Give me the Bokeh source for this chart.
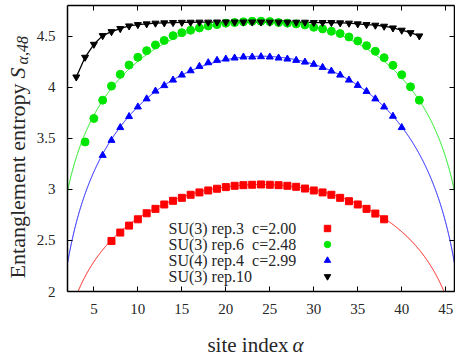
import numpy as np
from bokeh.plotting import figure
from bokeh.models import Range1d, LinearAxis, FixedTicker, Label, Legend, LegendItem
from bokeh.embed import file_html
from bokeh.resources import INLINE

# ---------------- data ----------------
L_SITES = 48

site_red = list(range(7, 39))
S_red = [2.495, 2.577, 2.645, 2.707, 2.766, 2.809, 2.852, 2.888, 2.917, 2.947,
         2.970, 2.989, 3.006, 3.022, 3.035, 3.041, 3.045, 3.048, 3.045, 3.041,
         3.035, 3.025, 3.008, 2.989, 2.970, 2.947, 2.917, 2.884, 2.852, 2.809,
         2.763, 2.707]

site_green = list(range(4, 43))
S_green = [3.464, 3.694, 3.873, 4.011, 4.126, 4.217, 4.293, 4.358, 4.414, 4.458,
           4.505, 4.534, 4.558, 4.580, 4.600, 4.613, 4.627, 4.633, 4.640, 4.646,
           4.646, 4.643, 4.633, 4.627, 4.620, 4.610, 4.587, 4.571, 4.548, 4.525,
           4.492, 4.453, 4.407, 4.352, 4.289, 4.214, 4.122, 4.004, 3.873]

site_blue = list(range(6, 41))
S_blue = [3.333, 3.480, 3.605, 3.713, 3.807, 3.886, 3.962, 4.016, 4.070, 4.119,
          4.161, 4.204, 4.240, 4.263, 4.276, 4.286, 4.296, 4.296, 4.299, 4.296,
          4.286, 4.276, 4.263, 4.246, 4.224, 4.194, 4.158, 4.119, 4.070, 4.018,
          3.959, 3.886, 3.807, 3.716, 3.605]

site_black = list(range(3, 43))
S_black = [4.100, 4.293, 4.420, 4.505, 4.544, 4.574, 4.600, 4.613, 4.620, 4.627,
           4.630, 4.633, 4.635, 4.636, 4.637, 4.637, 4.638, 4.638, 4.638, 4.638,
           4.638, 4.638, 4.637, 4.637, 4.636, 4.636, 4.636, 4.633, 4.633, 4.633,
           4.630, 4.627, 4.620, 4.613, 4.607, 4.597, 4.580, 4.558, 4.534, 4.502]

# CFT fit curves S = c/3 ln(L/pi sin(pi a / L)) + s0 (c from legend)
c_fit = [2.00, 2.48, 2.99]
s0_fit = [1.230, 2.410, 1.586]

x_lim = (2, 46)
y_lim = (2, 4.8)
x_ticks = [5, 10, 15, 20, 25, 30, 35, 40, 45]
y_ticks = [2, 2.5, 3, 3.5, 4, 4.5]
y_tick_labels = ["2", "2.5", "3", "3.5", "4", "4.5"]

legend_labels = ["SU(3) rep.3\u00a0 c=2.00", "SU(3) rep.6\u00a0 c=2.48",
                 "SU(4) rep.4\u00a0 c=2.99", "SU(3) rep.10"]
colors = ["#ff0000", "#00e600", "#0000ff", "#000000"]

FONT = "Liberation Serif"
TXT = "#262626"

# ---------------- layout: plot box at px 67..454 (x) and 5..291 (y) ----------------
W, H = 455, 355
BOX_L, BOX_R, BOX_T, BOX_B = 67, 454, 5, 291
kx = (x_lim[1] - x_lim[0]) / (BOX_R - BOX_L)
ky = (y_lim[1] - y_lim[0]) / (BOX_B - BOX_T)
xr = Range1d(x_lim[0] - BOX_L * kx, x_lim[1] + (W - BOX_R) * kx)
yr = Range1d(y_lim[0] - (H - BOX_B) * ky, y_lim[1] + BOX_T * ky)

p = figure(width=W, height=H, output_backend="svg", toolbar_location=None,
           x_range=xr, y_range=yr, x_axis_location=None, y_axis_location=None,
           min_border=0, min_border_left=0, min_border_right=0,
           min_border_top=0, min_border_bottom=0)
p.grid.visible = False
p.outline_line_color = None
p.background_fill_color = "white"
p.border_fill_color = "white"


def make_axis(ticks, loc, bounds, labels):
    ax = LinearAxis(ticker=FixedTicker(ticks=ticks), fixed_location=loc, bounds=bounds)
    ax.axis_line_width = 1.5
    ax.axis_line_color = "black"
    ax.major_tick_in = 5
    ax.major_tick_out = 0
    ax.major_tick_line_width = 1
    ax.minor_tick_line_color = None
    if labels:
        ax.major_label_text_font = FONT
        ax.major_label_text_font_size = "15px"
        ax.major_label_text_color = TXT
    else:
        ax.major_label_text_color = None
    return ax


ax_b = make_axis(x_ticks, y_lim[0], x_lim, True)
ax_b.major_label_standoff = 12
ax_l = make_axis(y_ticks, x_lim[0], y_lim, True)
ax_l.major_label_standoff = 12
ax_l.major_label_overrides = dict(zip(y_ticks, y_tick_labels))
ax_t = make_axis(x_ticks, y_lim[1], x_lim, False)
ax_r = make_axis(y_ticks, x_lim[1], y_lim, False)
p.add_layout(ax_b, "below")
p.add_layout(ax_l, "left")
p.add_layout(ax_t, "above")
p.add_layout(ax_r, "right")

# fit curves (only the part inside the plot box)
xs = np.linspace(x_lim[0], x_lim[1], 4401)
for c, s0, col in zip(c_fit, s0_fit, colors[:3]):
    ys = c / 3.0 * np.log(L_SITES / np.pi * np.sin(np.pi * xs / L_SITES)) + s0
    ys = np.where((ys >= y_lim[0]) & (ys <= y_lim[1]), ys, np.nan)
    p.line(xs, ys, line_color=col, line_width=1)

# black series drawn as connected points
p.line(site_black, S_black, line_color="black", line_width=1.3)

r_red = p.scatter(site_red, S_red, marker="square", size=7, color=colors[0])
r_green = p.scatter(site_green, S_green, marker="circle", size=8, color=colors[1])
r_blue = p.scatter(site_blue, S_blue, marker="triangle", size=7, color=colors[2])
r_black = p.scatter(site_black, S_black, marker="inverted_triangle", size=7, color=colors[3])

legend = Legend(items=[LegendItem(label=" ", renderers=[r]) for r in (r_red, r_green, r_blue, r_black)],
                location=(319, 71), padding=0, margin=0, spacing=0,
                glyph_width=16, glyph_height=16, label_height=16, label_width=0,
                label_standoff=0, label_text_font_size="1px", label_text_color=None,
                border_line_color=None, background_fill_alpha=0)
p.add_layout(legend, "center")

for i, txt in enumerate(legend_labels):
    p.add_layout(Label(x=168, y=127 - 16 * i, x_units="screen", y_units="screen",
                       text=txt, text_font=FONT, text_font_size="16px",
                       text_color=TXT, text_align="left", text_baseline="middle"))

# x axis label
p.add_layout(Label(x=288, y=11, x_units="screen", y_units="screen", text="site index",
                   text_font=FONT, text_font_size="21px", text_color=TXT,
                   text_align="right", text_baseline="alphabetic"))
p.add_layout(Label(x=292, y=11, x_units="screen", y_units="screen", text="\u03b1",
                   text_font=FONT, text_font_size="21px", text_font_style="italic",
                   text_color=TXT, text_align="left", text_baseline="alphabetic"))

# y axis label (rotated)
p.add_layout(Label(x=17, y=272, x_units="screen", y_units="screen",
                   text="Entanglement entropy", angle=np.pi / 2,
                   text_font=FONT, text_font_size="22px", text_color=TXT,
                   text_align="right", text_baseline="middle"))
p.add_layout(Label(x=17, y=277, x_units="screen", y_units="screen",
                   text="S", angle=np.pi / 2, text_font_style="italic",
                   text_font=FONT, text_font_size="22px", text_color=TXT,
                   text_align="left", text_baseline="middle"))
p.add_layout(Label(x=22, y=291, x_units="screen", y_units="screen",
                   text="\u03b1,48", angle=np.pi / 2, text_font_style="italic",
                   text_font=FONT, text_font_size="16px", text_color=TXT,
                   text_align="left", text_baseline="middle"))

open("out.html", "w").write(file_html(p, INLINE))
